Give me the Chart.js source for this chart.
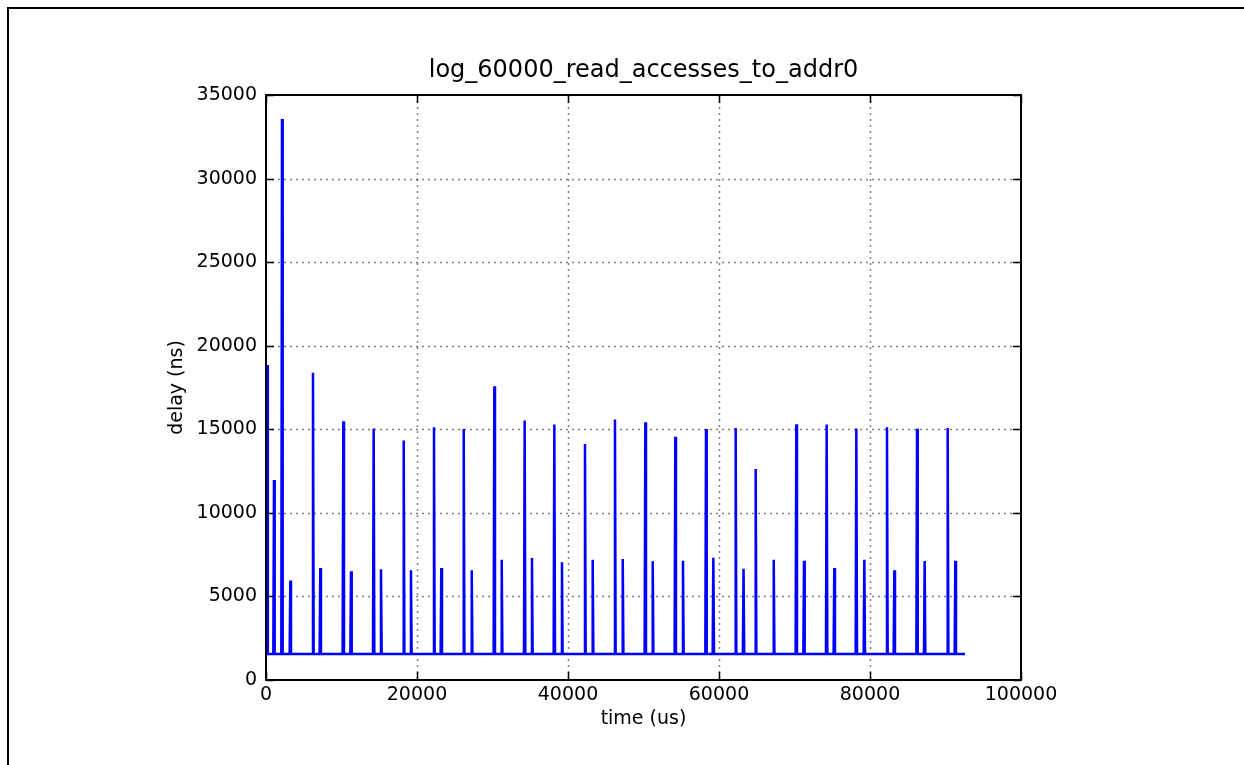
<!DOCTYPE html>
<html>
<head>
<meta charset="utf-8">
<script src="https://cdn.jsdelivr.net/npm/chart.js@4.4.0/dist/chart.umd.min.js"></script>
<style>
  html,body{margin:0;padding:0;background:#fff;overflow:hidden;}
  #wrap{position:absolute;left:0;top:0;width:1244px;height:765px;}
  #frame{position:absolute;left:7px;top:7px;right:0;bottom:0;border-top:2px solid #000;border-left:2px solid #000;pointer-events:none;}
</style>
</head>
<body>
<div id="wrap"><canvas id="chart" width="1244" height="765"></canvas></div>
<div id="frame"></div>
<script>
/* log_60000_read_accesses_to_addr0 — задержка чтения (ns) по времени (us) */

const TITLE = "log_60000_read_accesses_to_addr0";
const X_LABEL = "time (us)";
const Y_LABEL = "delay (ns)";

// пики задержки, всё остальное — базовая линия
const spikeTimes  = [150, 1060, 2120, 3220, 6225, 7190, 10240, 11260, 14260, 15230,
  18240, 19200, 22250, 23220, 26190, 27250, 30240, 31220, 34260, 35230,
  38190, 39200, 42250, 43270, 46220, 47250, 50240, 51220, 54210, 55230,
  58280, 59250, 62210, 63250, 64860, 67250, 70240, 71260, 74260, 75270,
  78190, 79250, 82250, 83220, 86230, 87240, 90290, 91300];
const spikeDelays = [18850, 11970, 33570, 5950, 18380, 6700, 15480, 6500, 15050, 6630,
  14330, 6560, 15120, 6700, 15020, 6560, 17570, 7200, 15520, 7300,
  15280, 7040, 14120, 7200, 15580, 7240, 15420, 7100, 14560, 7140,
  15020, 7320, 15080, 6660, 12630, 7200, 15300, 7140, 15280, 6700,
  15040, 7200, 15120, 6560, 15030, 7120, 15080, 7140];
const baseDelay = 1550;
const startTime = 0, endTime = 92580;
const sampleGap = 90;   // шаг отсчётов вокруг пика, us

const xTicks = [0, 20000, 40000, 60000, 80000, 100000];
const yTicks = [0, 5000, 10000, 15000, 20000, 25000, 30000, 35000];

function buildSeries(){
  const pts = [{x:startTime, y:baseDelay}];
  spikeTimes.forEach((t,i)=>{
    pts.push({x:t-sampleGap, y:baseDelay});
    pts.push({x:t, y:spikeDelays[i]});
    pts.push({x:t+sampleGap, y:baseDelay});
  });
  pts.push({x:endTime, y:baseDelay});
  return pts;
}

const FONT = "'DejaVu Sans', sans-serif";

const mplPlugin = {
  id:"mpl",
  beforeDatasetsDraw(chart){
    const { ctx, chartArea:a, scales } = chart;
    ctx.save();
    ctx.strokeStyle = "rgba(0,0,0,0.5)";
    ctx.lineWidth = 1.5;
    ctx.setLineDash([2,4]);
    xTicks.slice(1,-1).forEach(v=>{
      const px = Math.round(scales.x.getPixelForValue(v))+0.5;
      ctx.beginPath(); ctx.moveTo(px,a.top); ctx.lineTo(px,a.bottom); ctx.stroke();
    });
    yTicks.slice(1,-1).forEach(v=>{
      const py = Math.round(scales.y.getPixelForValue(v))+0.5;
      ctx.beginPath(); ctx.moveTo(a.left,py); ctx.lineTo(a.right,py); ctx.stroke();
    });
    ctx.restore();
  },
  afterDatasetsDraw(chart){
    const { ctx, chartArea:a, scales } = chart;
    ctx.save();
    ctx.strokeStyle = "#000"; ctx.lineWidth = 1.5;
    const L = 8;
    xTicks.forEach(v=>{
      const px = Math.round(scales.x.getPixelForValue(v))+0.5;
      ctx.beginPath();
      ctx.moveTo(px,a.bottom); ctx.lineTo(px,a.bottom-L);
      ctx.moveTo(px,a.top); ctx.lineTo(px,a.top+L);
      ctx.stroke();
    });
    yTicks.forEach(v=>{
      const py = Math.round(scales.y.getPixelForValue(v))+0.5;
      ctx.beginPath();
      ctx.moveTo(a.left,py); ctx.lineTo(a.left+L,py);
      ctx.moveTo(a.right,py); ctx.lineTo(a.right-L,py);
      ctx.stroke();
    });
    // рамка осей
    ctx.lineWidth = 2;
    ctx.strokeRect(a.left, a.top, a.right-a.left, a.bottom-a.top);
    // заголовок по центру области графика
    ctx.fillStyle = "#000";
    ctx.font = "24px " + FONT;
    ctx.textAlign = "center"; ctx.textBaseline = "middle";
    ctx.fillText(TITLE, (a.left+a.right)/2, a.top-24);
    ctx.restore();
  }
};

new Chart(document.getElementById("chart"), {
  type:"line",
  data:{ datasets:[{
    data: buildSeries(),
    borderColor:"#0000ff",
    borderWidth:2.5,
    pointRadius:0,
    tension:0,
    fill:false
  }]},
  options:{
    responsive:false, animation:false,
    layout:{ padding:{ left:0, right:223, top:95, bottom:0 } },
    plugins:{ legend:{display:false}, title:{display:false}, tooltip:{enabled:false} },
    scales:{
      x:{ type:"linear", min:0, max:100000,
        afterFit(s){ s.height = 85; },
        afterBuildTicks(s){ s.ticks = xTicks.map(v=>({value:v})); },
        grid:{ display:false }, border:{ display:false },
        ticks:{ color:"#000", padding:-4, maxRotation:0, font:{ family:FONT, size:19 }, callback:v=>String(v) },
        title:{ display:true, text:X_LABEL, color:"#000", font:{ family:FONT, size:19 }, padding:{ top:0, bottom:35 } }
      },
      y:{ min:0, max:35000,
        afterFit(s){ s.width = 266; },
        afterBuildTicks(s){ s.ticks = yTicks.map(v=>({value:v})); },
        grid:{ display:false }, border:{ display:false },
        ticks:{ color:"#000", padding:1, font:{ family:FONT, size:19 }, callback:v=>String(v) },
        title:{ display:true, text:Y_LABEL, color:"#000", font:{ family:FONT, size:19 }, padding:{ top:166, bottom:0 } }
      }
    }
  },
  plugins:[mplPlugin]
});
</script>
</body>
</html>
